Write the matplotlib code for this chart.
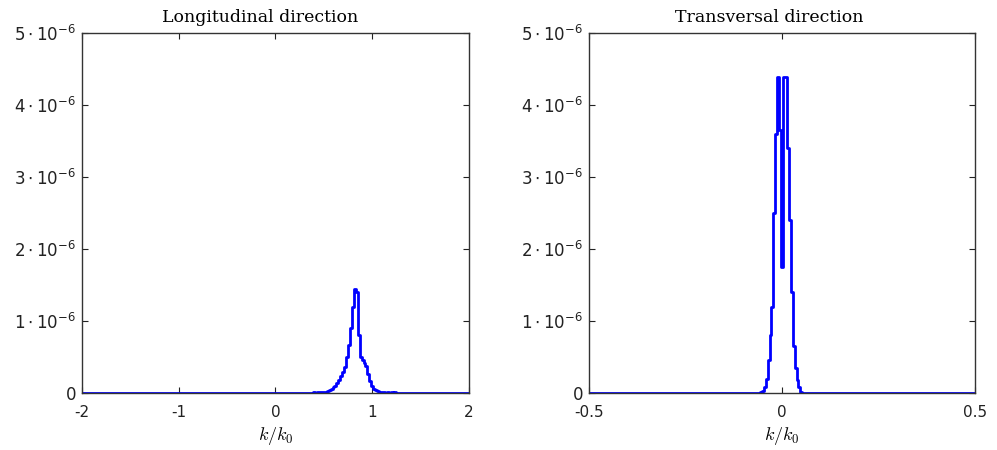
import numpy as np
import matplotlib
matplotlib.use("Agg")
import matplotlib.pyplot as plt

# longitudinal spectrum (k/k0, amplitude in 1e-6 units)
k_long = [-2.0, 0.38, 0.40, 0.42, 0.44, 0.46, 0.48, 0.50, 0.52, 0.54, 0.56, 0.58,
          0.60, 0.62, 0.64, 0.66, 0.68, 0.70, 0.72, 0.74, 0.76, 0.78, 0.80,
          0.82, 0.84, 0.86, 0.88, 0.90, 0.92, 0.94, 0.96, 0.98, 1.00, 1.02,
          1.04, 1.06, 1.08, 1.10, 1.12, 1.14, 1.16, 1.18, 1.20, 1.22, 1.24,
          1.26, 2.0]
s_long = [0.0, 0.0, 0.01, 0.0, 0.01, 0.01, 0.01, 0.02, 0.02, 0.03, 0.04, 0.06,
          0.08, 0.10, 0.14, 0.18, 0.23, 0.29, 0.36, 0.50, 0.66, 0.90, 1.20,
          1.44, 1.40, 0.80, 0.50, 0.46, 0.42, 0.37, 0.26, 0.16, 0.10, 0.06,
          0.04, 0.03, 0.02, 0.01, 0.01, 0.0, 0.01, 0.0, 0.01, 0.0, 0.01,
          0.0, 0.0]

# transversal spectrum
k_trans = [-0.5, -0.060, -0.055, -0.050, -0.045, -0.040, -0.035, -0.030, -0.025,
           -0.020, -0.015, -0.010, -0.005, 0.000, 0.005, 0.010, 0.015, 0.020,
           0.025, 0.030, 0.035, 0.040, 0.045, 0.050, 0.055, 0.5]
s_trans = [0.0, 0.0, 0.01, 0.03, 0.08, 0.20, 0.46, 0.80, 1.20,
           2.50, 3.60, 4.39, 3.65, 1.75, 4.39, 4.39, 3.40, 2.40,
           1.40, 0.65, 0.35, 0.18, 0.08, 0.02, 0.0, 0.0]

yticks = [0, 1, 2, 3, 4, 5]
ytick_labels = ["0"] + [r"$%d\cdot10^{-6}$" % v for v in yticks[1:]]

fig = plt.figure(figsize=(9.97, 4.5), dpi=100)
ax1 = fig.add_axes([0.0822, 0.1267, 0.3882, 0.8])
ax2 = fig.add_axes([0.5908, 0.1267, 0.3872, 0.8])

panels = [
    (ax1, k_long, s_long, (-2, 2), [-2, -1, 0, 1, 2], ["-2", "-1", "0", "1", "2"],
     "Longitudinal direction", 0.46),
    (ax2, k_trans, s_trans, (-0.5, 0.5), [-0.5, 0, 0.5], ["-0.5", "0", "0.5"],
     "Transversal direction", 0.466),
]

for ax, k, s, xlim, xt, xtl, title, tx in panels:
    ax.plot(k, np.array(s) * 1e-6, color="#0000ff", lw=2, drawstyle="steps-mid")
    ax.set_xlim(*xlim)
    ax.set_ylim(0, 5e-6)
    ax.set_xticks(xt)
    ax.set_xticklabels(xtl)
    ax.set_yticks(np.array(yticks) * 1e-6)
    ax.set_yticklabels(ytick_labels)
    ax.tick_params(direction="in", length=4, width=0.8, top=True, right=True,
                   colors="#222222")
    ax.tick_params(axis="x", labelsize=11, pad=9)
    ax.tick_params(axis="y", labelsize=12, pad=4)
    for sp in ax.spines.values():
        sp.set_color("#333333")
        sp.set_linewidth(1.0)
    ax.set_title(title, family="DejaVu Serif", fontsize=12.5, x=tx, pad=8)
    ax.set_xlabel(r"$k/k_0$", fontsize=13, math_fontfamily="cm", labelpad=3)

fig.savefig("out.png", dpi=100)
